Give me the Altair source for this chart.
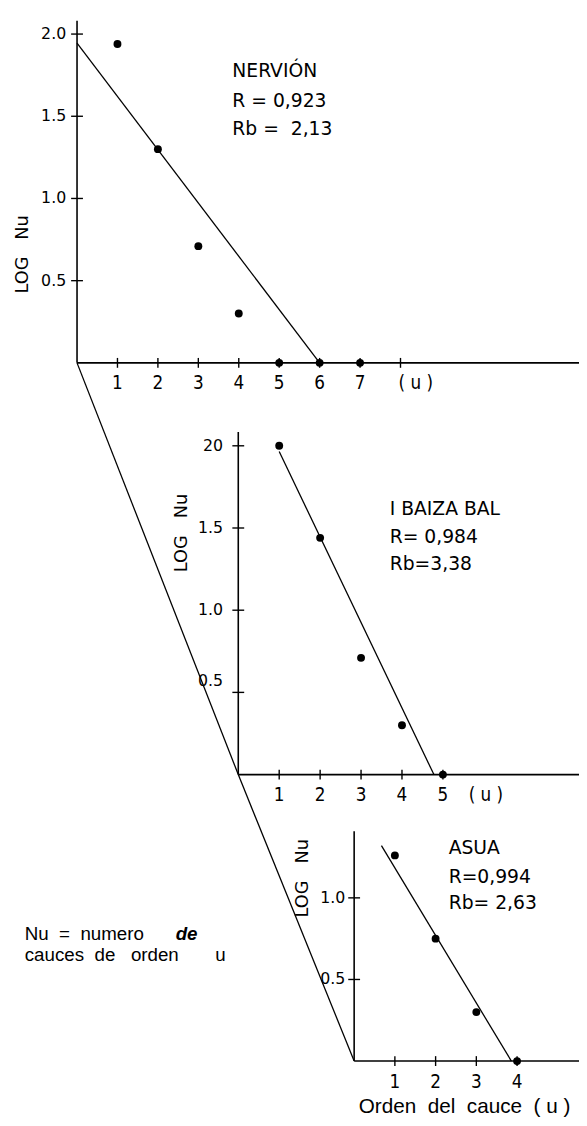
import altair as alt
import pandas as pd

# ---------------- data ----------------
nervion_u = [1, 2, 3, 4, 5, 6, 7]
nervion_log = [1.94, 1.30, 0.71, 0.30, 0.0, 0.0, 0.0]
ibaizabal_u = [1, 2, 3, 4, 5]
ibaizabal_log = [2.00, 1.44, 0.71, 0.30, 0.0]
asua_u = [1, 2, 3, 4]
asua_log = [1.26, 0.75, 0.30, 0.0]

# fitted regression lines: (u, log Nu) end points
nervion_fit = [(0.0, 1.945), (6.0, 0.0)]
ibaizabal_fit = [(1.0, 1.965), (4.78, 0.0)]
asua_fit = [(0.67, 1.32), (3.86, 0.0)]

nervion_text = ["NERVIÓN", "R = 0,923", "Rb =\u00a0 2,13"]
ibaizabal_text = ["I BAIZA BAL", "R= 0,984", "Rb=3,38"]
asua_text = ["ASUA", "R=0,994", "Rb= 2,63"]

nervion_yticks = [0.5, 1.0, 1.5, 2.0]
nervion_ylabels = ["0.5", "1.0", "1.5", "2.0"]
ibaizabal_yticks = [0.5, 1.0, 1.5, 2.0]
ibaizabal_ylabels = ["0.5", "1.0", "1.5", "20"]
asua_yticks = [0.5, 1.0]
asua_ylabels = ["0.5", "1.0"]

nervion_xticks = [1, 2, 3, 4, 5, 6, 7, 8]
nervion_xlabels = ["1", "2", "3", "4", "5", "6", "7", ""]
ibaizabal_xticks = [1, 2, 3, 4, 5]
ibaizabal_xlabels = ["1", "2", "3", "4", "5"]
asua_xticks = [1, 2, 3, 4]
asua_xlabels = ["1", "2", "3", "4"]

y_title = "LOG\u00a0\u00a0 Nu"
x_title = "Orden\u00a0 del\u00a0 cauce\u00a0 (\u00a0u\u00a0)"
note_1a = "Nu\u00a0 =\u00a0 numero"
note_1b = "de"
note_2 = "cauces\u00a0 de\u00a0\u00a0 orden\u00a0\u00a0\u00a0\u00a0\u00a0\u00a0 u"

# ---------------- layout (page pixels) ----------------
W, H = 579, 1118
LAYOUT = {
    "N": dict(x0=78.0, y0=360.0, ku=41.0, kv=166.7, top=13.0, right=587.0,
              ylab_dx=11.0, title=(-1.33, 0.66), unit_u=8.38,
              text_at=(3.84, [1.776, 1.59, 1.42])),
    "I": dict(x0=241.5, y0=777.5, ku=41.5, kv=166.7, top=430.0, right=587.0,
              ylab_dx=15.5, title=(-1.38, 1.47), unit_u=6.05,
              text_at=(3.70, [1.617, 1.443, 1.281])),
    "A": dict(x0=359.0, y0=1068.0, ku=41.3, kv=165.5, top=835.0, right=587.0,
              ylab_dx=9.0, title=(-1.26, 1.12), unit_u=None,
              text_at=(2.32, [1.307, 1.126, 0.967])),
}


def px(p, u):
    return LAYOUT[p]["x0"] + u * LAYOUT[p]["ku"]


def py(p, v):
    return LAYOUT[p]["y0"] - v * LAYOUT[p]["kv"]


panels = [
    ("N", nervion_u, nervion_log, nervion_fit, nervion_text,
     nervion_yticks, nervion_ylabels, nervion_xticks, nervion_xlabels),
    ("I", ibaizabal_u, ibaizabal_log, ibaizabal_fit, ibaizabal_text,
     ibaizabal_yticks, ibaizabal_ylabels, ibaizabal_xticks, ibaizabal_xlabels),
    ("A", asua_u, asua_log, asua_fit, asua_text,
     asua_yticks, asua_ylabels, asua_xticks, asua_xlabels),
]

rules, points, ylabs, xlabs, stats, titles = [], [], [], [], [], []
for (p, us, vs, fit, txt, yt, yl, xt, xl) in panels:
    L = LAYOUT[p]
    X0, Y0 = L["x0"], L["y0"]
    rules.append(dict(x=X0, y=L["top"], x2=X0, y2=Y0, w=1.6))
    rules.append(dict(x=X0, y=Y0, x2=L["right"], y2=Y0, w=1.6))
    for v, lab in zip(yt, yl):
        rules.append(dict(x=X0 - 6, y=py(p, v), x2=X0 + 6, y2=py(p, v), w=1.4))
        lift = 11 if (p == "I" and v == 0.5) else 0
        ylabs.append(dict(x=X0 - L["ylab_dx"], y=py(p, v) - lift, t=lab))
    for u, lab in zip(xt, xl):
        rules.append(dict(x=px(p, u), y=Y0 - 5, x2=px(p, u), y2=Y0 + 5, w=1.4))
        if lab:
            xlabs.append(dict(x=px(p, u), y=Y0 + 21, t=lab))
    if L["unit_u"] is not None:
        xlabs.append(dict(x=px(p, L["unit_u"]), y=Y0 + 21, t="(\u00a0u\u00a0)"))
    (u1, v1), (u2, v2) = fit
    rules.append(dict(x=px(p, u1), y=py(p, v1), x2=px(p, u2), y2=py(p, v2), w=1.3))
    for u, v in zip(us, vs):
        points.append(dict(x=px(p, u), y=py(p, v)))
    tu, tvs = L["text_at"]
    for s, tv in zip(txt, tvs):
        stats.append(dict(x=px(p, tu), y=py(p, tv), t=s))
    cu, cv = L["title"]
    titles.append(dict(x=px(p, cu), y=py(p, cv), t=y_title))

# slanted connectors between panel origins
rules.append(dict(x=LAYOUT["N"]["x0"], y=LAYOUT["N"]["y0"],
                  x2=LAYOUT["I"]["x0"], y2=LAYOUT["I"]["y0"], w=1.3))
rules.append(dict(x=LAYOUT["I"]["x0"], y=LAYOUT["I"]["y0"],
                  x2=LAYOUT["A"]["x0"], y2=LAYOUT["A"]["y0"], w=1.3))

xtitle_rows = [dict(x=px("A", 2.71), y=py("A", -0.284), t=x_title)]
note_rows = [
    dict(x=25, y=939, t=note_1a),
    dict(x=25, y=961, t=note_2),
]

xs = alt.Scale(domain=[8, 587], nice=False, zero=False)
ys = alt.Scale(domain=[8, 1126], nice=False, zero=False, reverse=True)
X = alt.X("x:Q", scale=xs, axis=None)
Y = alt.Y("y:Q", scale=ys, axis=None)

FONT = "DejaVu Sans, sans-serif"
NARROW = "DejaVu Sans Condensed, DejaVu Sans, sans-serif"
ARIAL = "Liberation Sans, Arial, sans-serif"

rule_layer = alt.Chart(pd.DataFrame(rules)).mark_rule(color="black").encode(
    x=X, y=Y, x2="x2:Q", y2="y2:Q",
    strokeWidth=alt.StrokeWidth("w:Q", scale=None),
)
point_layer = alt.Chart(pd.DataFrame(points)).mark_circle(
    color="black", opacity=1, size=64
).encode(x=X, y=Y)

ylab_layer = alt.Chart(pd.DataFrame(ylabs)).mark_text(
    font=FONT, fontSize=16, align="right", baseline="middle", color="black"
).encode(x=X, y=Y, text="t:N")
xlab_layer = alt.Chart(pd.DataFrame(xlabs)).mark_text(
    font=NARROW, fontSize=19, align="center", baseline="middle", color="black"
).encode(x=X, y=Y, text="t:N")
stat_layer = alt.Chart(pd.DataFrame(stats)).mark_text(
    font=FONT, fontSize=19, align="left", baseline="middle", color="black"
).encode(x=X, y=Y, text="t:N")
title_layer = alt.Chart(pd.DataFrame(titles)).mark_text(
    font=FONT, fontSize=18, angle=270, align="center", baseline="middle",
    color="black"
).encode(x=X, y=Y, text="t:N")

xtitle_layer = alt.Chart(pd.DataFrame(xtitle_rows)).mark_text(
    font=ARIAL, fontSize=21, align="center", baseline="middle", color="black"
).encode(x=X, y=Y, text="t:N")
note_layer = alt.Chart(pd.DataFrame(note_rows)).mark_text(
    font=ARIAL, fontSize=19, align="left", baseline="middle", color="black"
).encode(x=X, y=Y, text="t:N")
note_de = alt.Chart(pd.DataFrame([dict(x=178, y=939, t=note_1b)])).mark_text(
    font=ARIAL, fontSize=19, align="left", baseline="middle", color="black",
    fontWeight="bold", fontStyle="italic"
).encode(x=X, y=Y, text="t:N")

chart = alt.layer(
    rule_layer, point_layer, ylab_layer, xlab_layer, stat_layer, title_layer,
    xtitle_layer, note_layer, note_de,
).properties(
    width=W, height=H, padding=0, autosize=alt.AutoSizeParams(type="none"),
    background="white",
).configure_view(stroke=None)

chart.save("out.html", embed_options={"renderer": "svg", "actions": False})
